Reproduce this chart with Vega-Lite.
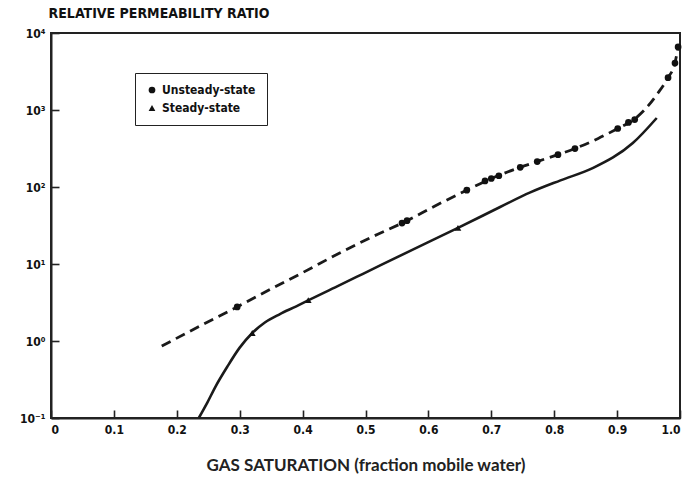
{
  "$schema": "https://vega.github.io/schema/vega-lite/v6.json",
  "width": 629,
  "height": 385,
  "autosize": {"type": "none"},
  "padding": {"left": 51, "top": 33, "right": 13, "bottom": 66},
  "background": "white",
  "title": {
    "text": "RELATIVE PERMEABILITY RATIO",
    "anchor": "start",
    "font": "Liberation Sans Narrow, DejaVu Sans Condensed, DejaVu Sans",
    "fontSize": 14,
    "fontWeight": "bold",
    "color": "#111111",
    "offset": 6,
    "dx": 29
  },
  "config": {
    "view": {"stroke": "#222222", "strokeWidth": 2},
    "axis": {
      "domainColor": "#222222",
      "domainWidth": 2,
      "tickColor": "#222222",
      "tickWidth": 1.6,
      "grid": false,
      "labelFont": "DejaVu Sans Condensed, DejaVu Sans",
      "labelFontWeight": "bold",
      "labelFontSize": 12,
      "labelColor": "#111111"
    }
  },
  "datasets": {
    "curves": [
      {"sg": 0.176, "kr": 0.86, "series": "Unsteady-state"},
      {"sg": 0.236, "kr": 1.55, "series": "Unsteady-state"},
      {"sg": 0.296, "kr": 2.77, "series": "Unsteady-state"},
      {"sg": 0.350, "kr": 4.75, "series": "Unsteady-state"},
      {"sg": 0.401, "kr": 7.8, "series": "Unsteady-state"},
      {"sg": 0.459, "kr": 13.9, "series": "Unsteady-state"},
      {"sg": 0.510, "kr": 22.4, "series": "Unsteady-state"},
      {"sg": 0.563, "kr": 35.5, "series": "Unsteady-state"},
      {"sg": 0.612, "kr": 57.5, "series": "Unsteady-state"},
      {"sg": 0.661, "kr": 91, "series": "Unsteady-state"},
      {"sg": 0.703, "kr": 132, "series": "Unsteady-state"},
      {"sg": 0.746, "kr": 180, "series": "Unsteady-state"},
      {"sg": 0.773, "kr": 214, "series": "Unsteady-state"},
      {"sg": 0.806, "kr": 263, "series": "Unsteady-state"},
      {"sg": 0.833, "kr": 316, "series": "Unsteady-state"},
      {"sg": 0.870, "kr": 427, "series": "Unsteady-state"},
      {"sg": 0.901, "kr": 575, "series": "Unsteady-state"},
      {"sg": 0.924, "kr": 724, "series": "Unsteady-state"},
      {"sg": 0.941, "kr": 955, "series": "Unsteady-state"},
      {"sg": 0.965, "kr": 1660, "series": "Unsteady-state"},
      {"sg": 0.981, "kr": 2630, "series": "Unsteady-state"},
      {"sg": 0.992, "kr": 4070, "series": "Unsteady-state"},
      {"sg": 0.997, "kr": 6600, "series": "Unsteady-state"},
      {"sg": 0.235, "kr": 0.1, "series": "Steady-state"},
      {"sg": 0.247, "kr": 0.15, "series": "Steady-state"},
      {"sg": 0.262, "kr": 0.26, "series": "Steady-state"},
      {"sg": 0.280, "kr": 0.46, "series": "Steady-state"},
      {"sg": 0.300, "kr": 0.82, "series": "Steady-state"},
      {"sg": 0.320, "kr": 1.27, "series": "Steady-state"},
      {"sg": 0.340, "kr": 1.74, "series": "Steady-state"},
      {"sg": 0.364, "kr": 2.24, "series": "Steady-state"},
      {"sg": 0.390, "kr": 2.82, "series": "Steady-state"},
      {"sg": 0.412, "kr": 3.47, "series": "Steady-state"},
      {"sg": 0.459, "kr": 5.32, "series": "Steady-state"},
      {"sg": 0.496, "kr": 7.46, "series": "Steady-state"},
      {"sg": 0.576, "kr": 15.5, "series": "Steady-state"},
      {"sg": 0.647, "kr": 29.4, "series": "Steady-state"},
      {"sg": 0.714, "kr": 55, "series": "Steady-state"},
      {"sg": 0.762, "kr": 85, "series": "Steady-state"},
      {"sg": 0.810, "kr": 122, "series": "Steady-state"},
      {"sg": 0.862, "kr": 177, "series": "Steady-state"},
      {"sg": 0.925, "kr": 372, "series": "Steady-state"},
      {"sg": 0.963, "kr": 787, "series": "Steady-state"}
    ],
    "measured": [
      {"sg": 0.296, "kr": 2.77, "series": "Unsteady-state"},
      {"sg": 0.558, "kr": 34, "series": "Unsteady-state"},
      {"sg": 0.566, "kr": 36.5, "series": "Unsteady-state"},
      {"sg": 0.661, "kr": 91, "series": "Unsteady-state"},
      {"sg": 0.690, "kr": 120, "series": "Unsteady-state"},
      {"sg": 0.700, "kr": 129, "series": "Unsteady-state"},
      {"sg": 0.712, "kr": 140, "series": "Unsteady-state"},
      {"sg": 0.746, "kr": 180, "series": "Unsteady-state"},
      {"sg": 0.773, "kr": 214, "series": "Unsteady-state"},
      {"sg": 0.806, "kr": 263, "series": "Unsteady-state"},
      {"sg": 0.833, "kr": 316, "series": "Unsteady-state"},
      {"sg": 0.901, "kr": 575, "series": "Unsteady-state"},
      {"sg": 0.918, "kr": 690, "series": "Unsteady-state"},
      {"sg": 0.928, "kr": 750, "series": "Unsteady-state"},
      {"sg": 0.981, "kr": 2630, "series": "Unsteady-state"},
      {"sg": 0.992, "kr": 4070, "series": "Unsteady-state"},
      {"sg": 0.997, "kr": 6600, "series": "Unsteady-state"},
      {"sg": 0.320, "kr": 1.27, "series": "Steady-state"},
      {"sg": 0.409, "kr": 3.4, "series": "Steady-state"},
      {"sg": 0.647, "kr": 29.4, "series": "Steady-state"}
    ]
  },
  "encoding": {
    "x": {
      "field": "sg",
      "type": "quantitative",
      "scale": {"domain": [0, 1], "nice": false},
      "axis": {
        "values": [0, 0.1, 0.2, 0.3, 0.4, 0.5, 0.6, 0.7, 0.8, 0.9, 1.0],
        "labelExpr": "datum.value == 0 ? '0' : format(datum.value, '.1f')",
        "tickSize": -8,
        "labelPadding": 14,
        "title": "GAS SATURATION (fraction mobile water)",
        "titleFont": "Lato",
        "titleFontSize": 17,
        "titleFontWeight": "bold",
        "titleColor": "#222222",
        "titlePadding": 22
      }
    },
    "y": {
      "field": "kr",
      "type": "quantitative",
      "scale": {"type": "log", "domain": [0.1, 10000], "nice": false},
      "axis": {
        "values": [0.1, 1, 10, 100, 1000, 10000],
        "labelExpr": "datum.value == 10000 ? '10⁴' : datum.value == 1000 ? '10³' : datum.value == 100 ? '10²' : datum.value == 10 ? '10¹' : datum.value == 1 ? '10⁰' : '10⁻¹'",
        "tickSize": -8,
        "labelPadding": 14,
        "title": null
      }
    }
  },
  "layer": [
    {
      "data": {"name": "curves"},
      "transform": [{"filter": "datum.series == 'Unsteady-state'"}],
      "mark": {"type": "line", "color": "#1a1a1a", "strokeWidth": 2.8, "strokeDash": [10, 6], "interpolate": "monotone"}
    },
    {
      "data": {"name": "curves"},
      "transform": [{"filter": "datum.series == 'Steady-state'"}],
      "mark": {"type": "line", "color": "#1a1a1a", "strokeWidth": 2.6, "interpolate": "monotone"}
    },
    {
      "data": {"name": "measured"},
      "mark": {"type": "point", "filled": true, "color": "#111111", "opacity": 1, "size": 45},
      "encoding": {
        "shape": {
          "field": "series",
          "type": "nominal",
          "scale": {"domain": ["Unsteady-state", "Steady-state"], "range": ["circle", "triangle-up"]},
          "legend": {
            "title": null,
            "orient": "none",
            "legendX": 84,
            "legendY": 40,
            "strokeColor": "#222222",
            "padding": 11,
            "symbolFillColor": "#111111",
            "symbolStrokeColor": "#111111",
            "symbolSize": 45,
            "labelFont": "Liberation Sans Narrow, DejaVu Sans Condensed",
            "labelFontWeight": "bold",
            "labelFontSize": 12,
            "labelColor": "#111111",
            "rowPadding": 5
          }
        }
      }
    }
  ]
}
